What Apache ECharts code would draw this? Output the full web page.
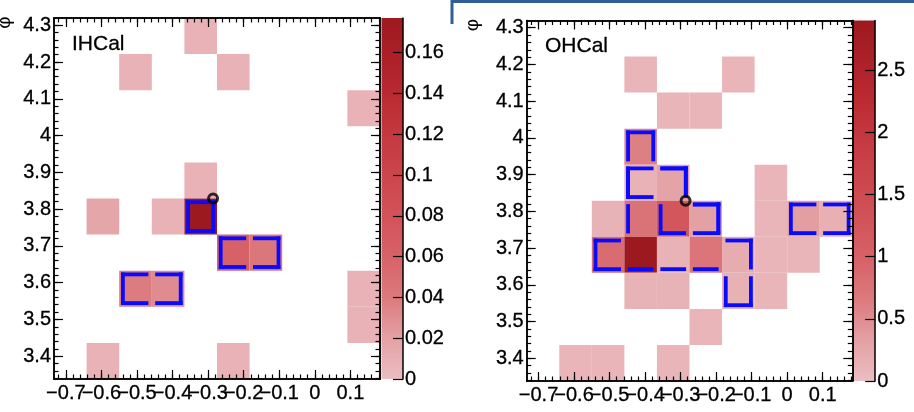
<!DOCTYPE html>
<html>
<head>
<meta charset="utf-8">
<script src="https://cdn.jsdelivr.net/npm/echarts@6/dist/echarts.min.js"></script>
<style>
    html, body { margin: 0; padding: 0; background: #fff; }
    #chart { width: 914px; height: 412px; }
</style>
</head>
<body>
<div id="chart"></div>
<script>
// tower binning: 24 eta bins over [-1.1, 1.1], 64 phi bins over 2pi; a 10x10 window is shown
const etaStep = 2.2 / 24
const etaMin = -1.1 + 4 * etaStep
const phiStep = Math.PI / 32
const phiMin = 34 * phiStep
const nBins = 10

const xTicks = [-0.7, -0.6, -0.5, -0.4, -0.3, -0.2, -0.1, 0, 0.1]
const yTicks = [3.4, 3.5, 3.6, 3.7, 3.8, 3.9, 4, 4.1, 4.2, 4.3]
const ihcalZTicks = [0, 0.02, 0.04, 0.06, 0.08, 0.1, 0.12, 0.14, 0.16]
const ohcalZTicks = [0, 0.5, 1, 1.5, 2, 2.5]

// [etaBin, phiBin, energy] - bins counted from the lower left of the window
const ihcalCells = [
    [4, 9, 0.008],
    [2, 8, 0.008], [5, 8, 0.008],
    [9, 7, 0.008],
    [4, 5, 0.008],
    [1, 4, 0.016], [3, 4, 0.008], [4, 4, 0.177],
    [5, 3, 0.061], [6, 3, 0.043],
    [2, 2, 0.039], [3, 2, 0.031], [9, 2, 0.008],
    [9, 1, 0.008],
    [1, 0, 0.008], [5, 0, 0.008]
]
const ohcalCells = [
    [3, 8, 0.1], [6, 8, 0.1],
    [4, 7, 0.1], [5, 7, 0.1],
    [3, 6, 0.6],
    [3, 5, 0.13], [4, 5, 0.3], [7, 5, 0.1],
    [2, 4, 0.12], [3, 4, 0.75], [4, 4, 1.25], [5, 4, 0.32], [7, 4, 0.1], [8, 4, 0.35], [9, 4, 0.16],
    [2, 3, 0.85], [3, 3, 2.9], [4, 3, 0.13], [5, 3, 0.72], [6, 3, 0.2], [7, 3, 0.1], [8, 3, 0.1],
    [3, 2, 0.12], [4, 2, 0.12], [6, 2, 0.15], [7, 2, 0.1],
    [5, 1, 0.1],
    [1, 0, 0.1], [2, 0, 0.1], [4, 0, 0.1]
]

// towers of each cluster, [etaBin, phiBin]
const ihcalClusters = [
    [[4, 4]],
    [[5, 3], [6, 3]],
    [[2, 2], [3, 2]]
]
const ohcalClusters = [
    [[3, 5], [4, 5], [4, 4], [5, 4]],
    [[3, 6], [3, 5], [4, 5], [3, 4], [4, 4], [5, 4], [2, 3], [3, 3], [4, 3], [5, 3], [6, 3], [6, 2]],
    [[8, 4], [9, 4]]
]

const seedPoint = [-0.286, 3.829]

const FONT = '"Liberation Sans", Arial, Helvetica, sans-serif'
const paletteStops = ['#ebbec1', '#e4a1a5', '#dc7b7f', '#d76368', '#d2545a', '#cc474c', '#c43a40', '#bb2b32', '#ad2028', '#9c1a1f']

const hexToRgb = h => [1, 3, 5].map(k => parseInt(h.substr(k, 2), 16))
const zColor = t => {
    t = Math.max(0, Math.min(1, t))
    let f = t * (paletteStops.length - 1)
    let k = Math.min(Math.floor(f), paletteStops.length - 2)
    let u = f - k
    let c0 = hexToRgb(paletteStops[k]), c1 = hexToRgb(paletteStops[k + 1])
    let c = c0.map((v, n) => Math.round(v + (c1[n] - v) * u))
    return 'rgb(' + c.join(',') + ')'
}

const range = (a, b, s) => {
    let out = []
    for (let v = a; v <= b + 1e-9; v += s) out.push(+v.toFixed(3))
    return out
}
const xMinor = range(-0.72, 0.18, 0.02)
const yMinor = range(3.34, 4.32, 0.02)
const fmt = v => (v < 0 ? '\u2212' : '') + Math.abs(v)
// the eta labels touch each other, so they are split over two axes to keep all of them
const xTicksEven = xTicks.filter((v, n) => n % 2 === 0)
const xTicksOdd = xTicks.filter((v, n) => n % 2 === 1)

const cellCenter = (i, j) => [etaMin + (i + 0.5) * etaStep, phiMin + (j + 0.5) * phiStep]

const clusterEdges = clusters => {
    let edges = []
    clusters.forEach(cl => {
        const has = (i, j) => cl.some(c => c[0] === i && c[1] === j)
        cl.forEach(([i, j]) => {
            let L = !has(i - 1, j), R = !has(i + 1, j), T = !has(i, j + 1), B = !has(i, j - 1)
            let c = cellCenter(i, j)
            if (L) edges.push([c[0], c[1], 0, T ? 1 : 0, B ? 1 : 0])
            if (R) edges.push([c[0], c[1], 1, T ? 1 : 0, B ? 1 : 0])
            if (T) edges.push([c[0], c[1], 2, L ? 1 : 0, R ? 1 : 0])
            if (B) edges.push([c[0], c[1], 3, L ? 1 : 0, R ? 1 : 0])
        })
    })
    return edges
}

const panels = [
    {
        name: 'IHCal', cells: ihcalCells, clusters: ihcalClusters, zTicks: ihcalZTicks,
        plot: { left: 54, top: 18, width: 326, height: 361 },
        bar: { left: 381.5, top: 18, width: 21.5, height: 361 },
        labelPos: [72, 44], phiPos: [5, 22.5]
    },
    {
        name: 'OHCal', cells: ohcalCells, clusters: ohcalClusters, zTicks: ohcalZTicks,
        plot: { left: 526.7, top: 20.5, width: 325.6, height: 360.5 },
        bar: { left: 853.7, top: 20.5, width: 21.5, height: 360.5 },
        labelPos: [545, 46], phiPos: [473, 25]
    }
]

let grid = [], xAxis = [], yAxis = [], series = [], graphic = []

const lineStyle = { color: '#000', width: 1.5 }
const tickStyle = { color: '#000', width: 1.2 }
const labelStyle = {
    color: '#000', fontSize: 20, fontFamily: FONT,
    textBorderColor: '#000', textBorderWidth: 0.3,
    showMinLabel: true, showMaxLabel: true, hideOverlap: false
}

panels.forEach(p => {
    let g = grid.length
    grid.push(p.plot, p.bar)
    let xb = xAxis.length, yb = yAxis.length
    const frameAxis = (pos, ticks, len, extra) => Object.assign({
        type: 'value', gridIndex: g, position: pos, z: 5,
        axisLine: { show: true, onZero: false, lineStyle: lineStyle },
        axisTick: { show: true, inside: true, length: len, customValues: ticks, lineStyle: tickStyle },
        axisLabel: { show: false },
        splitLine: { show: false }
    }, extra)
    let xr = { min: etaMin, max: etaMin + nBins * etaStep }
    let yr = { min: phiMin, max: phiMin + nBins * phiStep }
    xAxis.push(
        frameAxis('bottom', xTicks, 9, Object.assign({
            axisLabel: Object.assign({ show: true, customValues: xTicksEven, margin: 4, formatter: fmt }, labelStyle)
        }, xr)),
        frameAxis('bottom', xMinor, 4.5, Object.assign({
            axisLabel: Object.assign({ show: true, customValues: xTicksOdd, margin: 4, formatter: fmt }, labelStyle)
        }, xr)),
        frameAxis('top', xTicks, 9, xr),
        frameAxis('top', xMinor, 4.5, xr),
        { type: 'value', gridIndex: g + 1, min: 0, max: 1, show: false }
    )
    yAxis.push(
        frameAxis('left', yTicks, 9, Object.assign({
            axisLabel: Object.assign({ show: true, customValues: yTicks, margin: 3, formatter: fmt }, labelStyle)
        }, yr)),
        frameAxis('left', yMinor, 4.5, yr),
        frameAxis('right', yTicks, 9, yr),
        frameAxis('right', yMinor, 4.5, yr)
    )
    let zMax = Math.max(...p.cells.map(c => c[2]))
    yAxis.push({
        type: 'value', gridIndex: g + 1, position: 'right', min: 0, max: zMax, z: 5,
        axisLine: { show: true, onZero: false, lineStyle: lineStyle },
        axisTick: { show: true, inside: true, length: 10, customValues: p.zTicks, lineStyle: tickStyle },
        axisLabel: Object.assign({ show: true, customValues: p.zTicks, margin: 2 }, labelStyle),
        splitLine: { show: false }
    })

    series.push({
        type: 'custom', xAxisIndex: xb, yAxisIndex: yb, z: 1,
        data: p.cells.map(c => cellCenter(c[0], c[1]).concat([c[2]])),
        renderItem: (params, api) => {
            let x = api.value(0), y = api.value(1)
            let p0 = api.coord([x - etaStep / 2, y + phiStep / 2])
            let p1 = api.coord([x + etaStep / 2, y - phiStep / 2])
            return {
                type: 'rect',
                shape: { x: p0[0], y: p0[1], width: p1[0] - p0[0], height: p1[1] - p0[1] },
                style: { fill: zColor(api.value(2) / zMax) }
            }
        }
    })

    // cluster outlines, drawn inside the boundary towers
    series.push({
        type: 'custom', xAxisIndex: xb, yAxisIndex: yb, z: 2,
        data: clusterEdges(p.clusters),
        renderItem: (params, api) => {
            const b = 1.8, w = 3.8, a = 3.4
            let x = api.value(0), y = api.value(1), side = api.value(2)
            let c1 = api.value(3), c2 = api.value(4)
            let p0 = api.coord([x - etaStep / 2, y + phiStep / 2])
            let p1 = api.coord([x + etaStep / 2, y - phiStep / 2])
            let r
            if (side < 2) {
                let px = side === 0 ? p0[0] + b : p1[0] - b - w
                let ya = p0[1] + (c1 ? b : a), yb2 = p1[1] - (c2 ? b : a)
                r = { x: px, y: ya, width: w, height: yb2 - ya }
            } else {
                let py = side === 2 ? p0[1] + b : p1[1] - b - w
                let xa = p0[0] + (c1 ? b : a), xb2 = p1[0] - (c2 ? b : a)
                r = { x: xa, y: py, width: xb2 - xa, height: w }
            }
            return { type: 'rect', shape: r, style: { fill: '#0a0aff' } }
        }
    })

    series.push({
        type: 'scatter', xAxisIndex: xb, yAxisIndex: yb, z: 3,
        symbol: 'circle', symbolSize: 9,
        itemStyle: { color: 'rgba(0,0,0,0)', borderColor: '#000', borderWidth: 3 },
        data: [seedPoint]
    })

    // colour scale
    series.push({
        type: 'custom', xAxisIndex: xb + 4, yAxisIndex: yb + 4, z: 1,
        data: [[0, zMax]],
        renderItem: (params, api) => {
            let p0 = api.coord([0, api.value(1)])
            let p1 = api.coord([1, 0])
            return {
                type: 'rect',
                shape: { x: p0[0], y: p0[1], width: p1[0] - p0[0], height: p1[1] - p0[1] },
                style: {
                    fill: new echarts.graphic.LinearGradient(0, 1, 0, 0,
                        paletteStops.map((c, n) => ({ offset: n / (paletteStops.length - 1), color: c })))
                }
            }
        }
    })

    graphic.push({
        type: 'text', x: p.labelPos[0], y: p.labelPos[1],
        style: {
            text: p.name, font: '21px ' + FONT, fill: '#000', verticalAlign: 'middle',
            stroke: '#000', lineWidth: 0.3
        }
    }, {
        // y axis title, turned like ROOT does
        type: 'group', x: p.phiPos[0], y: p.phiPos[1], rotation: Math.PI / 2,
        children: [{
            type: 'text', x: 0, y: 0,
            style: { text: '\u03c6', font: '19px ' + FONT, fill: '#000', align: 'center', verticalAlign: 'middle' }
        }]
    })
})

// window frame edge visible at the top right of the screenshot
graphic.push({
    type: 'polyline', shape: { points: [[452, 24], [452, 1.5], [914, 1.5]] },
    style: { stroke: '#2f5f96', lineWidth: 3, fill: null }
})

const chart = echarts.init(document.getElementById('chart'))
chart.setOption({
    animation: false,
    backgroundColor: '#fff',
    grid: grid,
    xAxis: xAxis,
    yAxis: yAxis,
    series: series,
    graphic: graphic
})
</script>
</body>
</html>
